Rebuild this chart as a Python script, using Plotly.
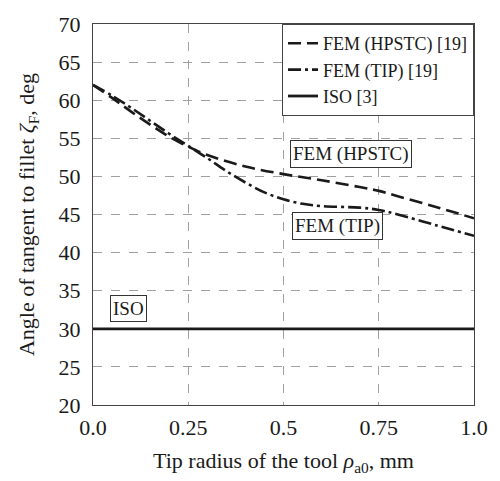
import plotly.graph_objects as go

# Data
x_hpstc = [0.0, 0.05, 0.1, 0.15, 0.2, 0.25, 0.3, 0.4, 0.5, 0.6, 0.7, 0.75, 0.8, 0.9, 1.0]
y_hpstc = [62.0, 60.3, 58.5, 56.8, 55.2, 53.9, 52.8, 51.3, 50.3, 49.5, 48.6, 48.1, 47.4, 46.0, 44.5]

x_tip = [0.0, 0.05, 0.1, 0.15, 0.2, 0.25, 0.3, 0.35, 0.4, 0.45, 0.5, 0.55, 0.6, 0.7, 0.75, 0.8, 0.9, 1.0]
y_tip = [62.0, 60.6, 59.0, 57.3, 55.6, 54.0, 52.4, 50.7, 49.2, 47.9, 47.0, 46.4, 46.1, 45.9, 45.6, 45.0, 43.6, 42.2]

x_iso = [0.0, 1.0]
y_iso = [30.0, 30.0]

x_ticks = [0.0, 0.25, 0.5, 0.75, 1.0]
x_ticklabels = ["0.0", "0.25", "0.5", "0.75", "1.0"]
y_ticks = [20, 25, 30, 35, 40, 45, 50, 55, 60, 65, 70]

FONT = "Liberation Serif, Times New Roman, serif"
INK = "#1a1a1a"

fig = go.Figure()
fig.add_trace(go.Scatter(x=x_hpstc, y=y_hpstc, mode="lines", name="FEM (HPSTC) [19]",
                         line=dict(color=INK, width=2.6, dash="13px,6px"), line_shape="spline"))
fig.add_trace(go.Scatter(x=x_tip, y=y_tip, mode="lines", name="FEM (TIP) [19]",
                         line=dict(color=INK, width=2.6, dash="13px,4px,3px,4px"), line_shape="spline"))
fig.add_trace(go.Scatter(x=x_iso, y=y_iso, mode="lines", name="ISO [3]",
                         line=dict(color=INK, width=2.8)))

ann_style = dict(showarrow=False, font=dict(family=FONT, size=19, color=INK),
                 bordercolor="#333333", borderwidth=1, borderpad=2, bgcolor="white",
                 xref="x", yref="y")
fig.add_annotation(x=0.678, y=52.9, text="FEM (HPSTC)", **ann_style)
fig.add_annotation(x=0.641, y=43.5, text="FEM (TIP)", **ann_style)
fig.add_annotation(x=0.093, y=32.6, text="ISO", **ann_style)

grid = dict(showgrid=True, gridcolor="#a0a0a0", gridwidth=1, griddash="dash",
            showline=True, linecolor="#444444", linewidth=1.2, mirror=True,
            ticks="", zeroline=False,
            tickfont=dict(family=FONT, size=22, color=INK))

fig.update_xaxes(range=[0, 1], tickvals=x_ticks, ticktext=x_ticklabels,
                 ticklabelstandoff=2,
                 title=dict(text="Tip radius of the tool <i>ρ</i><sub>a0</sub>, mm",
                            font=dict(family=FONT, size=22, color=INK), standoff=14),
                 **grid)
fig.update_yaxes(range=[20, 70], tickvals=y_ticks,
                 ticklabelstandoff=7,
                 title=dict(text="Angle of tangent to fillet <i>ζ</i><sub>F</sub>, deg",
                            font=dict(family=FONT, size=22, color=INK), standoff=17),
                 **grid)

fig.update_layout(
    width=500, height=481,
    margin=dict(l=93, r=22, t=18, b=76),
    paper_bgcolor="white", plot_bgcolor="white",
    showlegend=True,
    legend=dict(x=1, y=1, xanchor="right", yanchor="top",
                bordercolor="#444444", borderwidth=1, bgcolor="white",
                font=dict(family=FONT, size=18, color=INK),
                tracegroupgap=0, itemwidth=30),
)

fig.write_html("out.html")
